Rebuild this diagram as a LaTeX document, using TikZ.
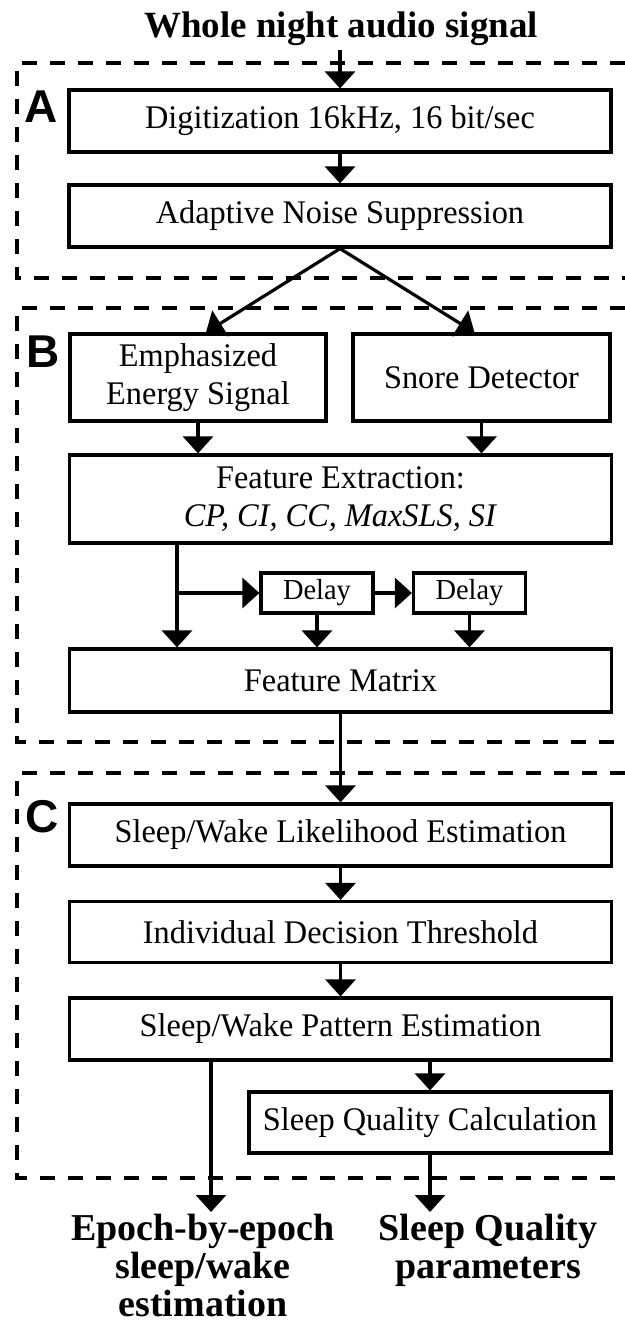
\documentclass[tikz,border=0pt]{standalone}
\usepackage{fontspec}
\setmainfont{Liberation Serif}
\setsansfont{Liberation Sans}
\newfontfamily\boxfont{Liberation Serif}[FakeStretch=0.98]
\usetikzlibrary{arrows.meta,calc}
\begin{document}
\begin{tikzpicture}[x=0.5pt,y=-0.5pt,
  box/.style={draw,line width=1.6pt,inner sep=0pt,align=center,font=\boxfont\fontsize{16.5}{19}\selectfont},
  smallbox/.style={box,font=\boxfont\fontsize{14.5}{17}\selectfont},
  arr/.style={line width=1.6pt,-{Triangle[width=15pt,length=8.5pt]}},
  frame/.style={line width=1.6pt,dash pattern=on 7.5pt off 6.5pt},
  lab/.style={font=\sffamily\bfseries\fontsize{23}{26}\selectfont,anchor=base west,inner sep=0pt},
  outlbl/.style={font=\bfseries\fontsize{19}{19}\selectfont,align=center,inner sep=0pt,anchor=north}]
\useasboundingbox (0,0) rectangle (625,1323);
\clip (0,0) rectangle (625,1323);

% dashed frames
\draw[frame] (625,63) -- (17,63) -- (17,278) -- (625,278);
\draw[frame] (625,308) -- (17,308) -- (17,742) -- (625,742);
\draw[frame] (625,773) -- (17,773) -- (17,1178) -- (625,1178);

% labels
\node[lab] (la) at (24,122) {A};
\node[lab] (lb) at (26,367) {B};
\node[lab] (lc) at (25,832) {C};

% title
\node[font=\bfseries\fontsize{18.5}{22}\selectfont,anchor=base,inner sep=0pt] (title) at (341,37) {Whole night audio signal};
\coordinate (tin) at (340,50);

% boxes
\node[box,minimum width=271pt,minimum height=31pt] (dig) at (340,121) {Digitization 16kHz, 16 bit/sec};
\node[box,minimum width=271pt,minimum height=31pt] (ans) at (340,216) {Adaptive Noise Suppression};
\node[box,minimum width=128pt,minimum height=43.5pt] (emph) at (198,377.5) {Emphasized\\Energy Signal};
\node[box,minimum width=128.5pt,minimum height=43.5pt] (snore) at (481.5,377.5) {Snore Detector};
\node[box,minimum width=271pt,minimum height=44pt] (fe) at (340.5,499) {Feature Extraction:\\\textit{CP, CI, CC, MaxSLS, SI}};
\node[smallbox,minimum width=56pt,minimum height=20pt] (d1) at (317,593) {Delay};
\node[smallbox,minimum width=56pt,minimum height=20pt] (d2) at (469.5,593) {Delay};
\node[box,minimum width=271pt,minimum height=31.5pt] (fm) at (340.5,680.5) {Feature Matrix};
\node[box,minimum width=271pt,minimum height=31pt] (swle) at (340.5,835) {Sleep/Wake Likelihood Estimation};
\node[box,minimum width=271pt,minimum height=30.5pt] (idt) at (340.5,932) {Individual Decision Threshold};
\node[box,minimum width=271pt,minimum height=31pt] (swpe) at (340.5,1029) {Sleep/Wake Pattern Estimation};
\node[box,minimum width=181pt,minimum height=30.5pt] (sqc) at (430,1122.5) {Sleep Quality Calculation};

% outputs
\node[outlbl] (out1) at (203,1214) {Epoch-by-epoch\\sleep/wake\\estimation};
\node[outlbl] (out2) at (488,1214) {Sleep Quality\\parameters};
\coordinate (e1) at (211,1212);
\coordinate (e2) at (430,1212);

% connectors
\draw[arr] (tin) -- (tin |- dig.north);
\draw[arr] (dig) -- (ans);
\draw[arr] (ans.south) -- ($(emph.north)+(8,0)$);
\draw[arr] (ans.south) -- ($(snore.north)+(-7,0)$);
\draw[arr] (emph.south) -- (emph.south |- fe.north);
\draw[arr] (snore.south) -- (snore.south |- fe.north);
\coordinate (br) at (177,593);
\draw[arr] (fe.south -| br) -- (fm.north -| br);
\draw[arr] (br) -- (d1.west);
\draw[arr] (d1) -- (d2);
\draw[arr] (d1.south) -- (d1.south |- fm.north);
\draw[arr] (d2.south) -- (d2.south |- fm.north);
\draw[arr] (fm) -- (swle);
\draw[arr] (swle) -- (idt);
\draw[arr] (idt) -- (swpe);
\draw[arr] (swpe.south -| sqc.north) -- (sqc.north);
\draw[arr] (swpe.south -| e1) -- (e1);
\draw[arr] (sqc.south) -- (e2);
\end{tikzpicture}
\end{document}
